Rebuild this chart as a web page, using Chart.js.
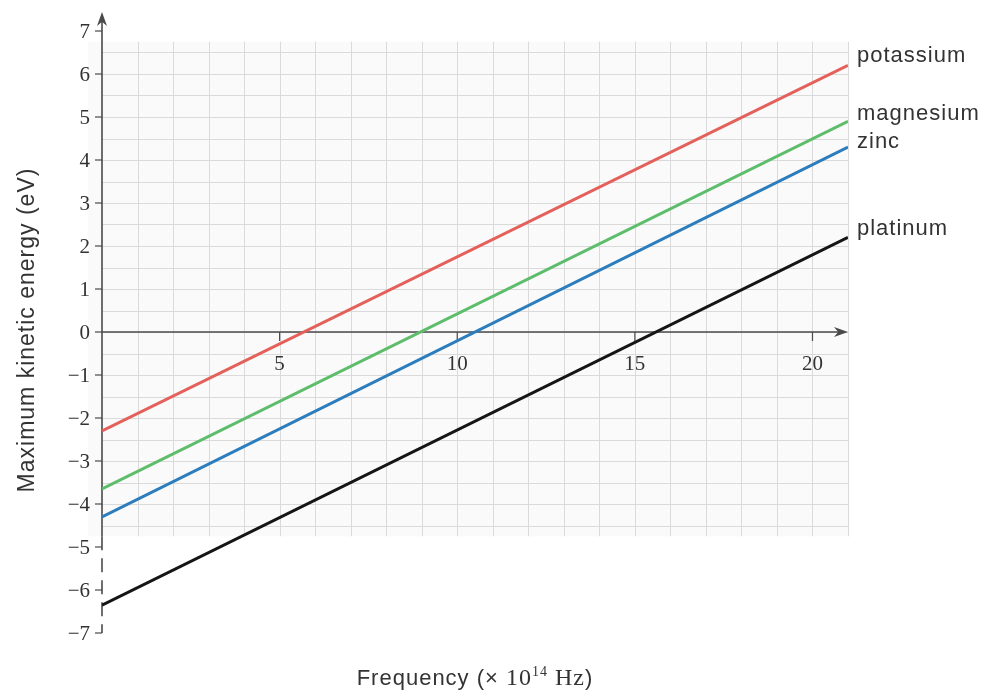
<!DOCTYPE html>
<html>
<head>
<meta charset="utf-8">
<title>Maximum kinetic energy vs frequency</title>
<script src="https://cdn.jsdelivr.net/npm/chart.js@4.4.1/dist/chart.umd.min.js"></script>
<style>
    html, body { margin: 0; padding: 0; background: #fff; }
    #chart { display: block; }
</style>
</head>
<body>
<canvas id="chart" width="987" height="690"></canvas>
<script>
'use strict';

// frequency (x 10^14 Hz) at both ends of each line
const freqEnds = [0, 21];
// max kinetic energy (eV) read at those two ends
const potassium = [-2.3, 6.2];
const magnesium = [-3.65, 4.9];
const zinc = [-4.3, 4.3];
const platinum = [-6.35, 2.2];

const metals = ['potassium', 'magnesium', 'zinc', 'platinum'];
const metalValues = [potassium, magnesium, zinc, platinum];
const lineColors = ['#e4605a', '#5dbd6b', '#2b7dbd', '#151515'];

const xTickLabels = [5, 10, 15, 20];
const yTickLabels = [7, 6, 5, 4, 3, 2, 1, 0, -1, -2, -3, -4, -5, -6, -7];

const SERIF = '"Liberation Serif", "DejaVu Serif", serif';
const SANS = '"Liberation Sans", Arial, sans-serif';
const AXIS = '#4a4a4a';

function fmt(v){
    return v < 0 ? '\u2212' + Math.abs(v) : String(v);
}

function arrow(c, x, y, dx, dy){
    // filled head pointing along (dx,dy), tip at x,y
    const len = 14, half = 5;
    const px = -dy, py = dx;
    c.beginPath();
    c.moveTo(x, y);
    c.lineTo(x - dx*len + px*half, y - dy*len + py*half);
    c.lineTo(x - dx*len*0.7, y - dy*len*0.7);
    c.lineTo(x - dx*len - px*half, y - dy*len - py*half);
    c.closePath();
    c.fill();
}

const paperPlugin = {
    id: 'paper',
    beforeDatasetsDraw(chart){
        const c = chart.ctx;
        const xs = chart.scales.x, ys = chart.scales.y;
        const left = xs.getPixelForValue(0), right = xs.getPixelForValue(21);
        const top = ys.getPixelForValue(6.75), bottom = ys.getPixelForValue(-4.75);
        c.save();
        c.fillStyle = '#fafafa';
        c.fillRect(left - 14, top, right - left + 14, bottom - top);

        // graph paper
        c.strokeStyle = '#dadada';
        c.lineWidth = 1;
        for(let i = 1; i <= 21; i++){
            const px = Math.round(xs.getPixelForValue(i)) + 0.5;
            c.beginPath(); c.moveTo(px, top); c.lineTo(px, bottom); c.stroke();
        }
        for(let v = -4.5; v <= 6.5; v += 0.5){
            const py = Math.round(ys.getPixelForValue(v)) + 0.5;
            c.beginPath(); c.moveTo(left, py); c.lineTo(right, py); c.stroke();
        }

        // axes
        c.strokeStyle = AXIS;
        c.fillStyle = AXIS;
        c.lineWidth = 1.6;
        const y0 = ys.getPixelForValue(0);
        c.beginPath(); c.moveTo(left, y0); c.lineTo(right - 4, y0); c.stroke();
        arrow(c, right, y0, 1, 0);

        c.beginPath(); c.moveTo(left, bottom); c.lineTo(left, 20); c.stroke();
        arrow(c, left, 12, 0, -1);
        c.setLineDash([14, 8]);
        c.beginPath(); c.moveTo(left, bottom); c.lineTo(left, ys.getPixelForValue(-7)); c.stroke();
        c.setLineDash([]);

        // ticks
        c.lineWidth = 1.2;
        yTickLabels.forEach(v => {
            const py = ys.getPixelForValue(v);
            c.beginPath(); c.moveTo(left - 7, py); c.lineTo(left, py); c.stroke();
        });
        xTickLabels.forEach(v => {
            const px = xs.getPixelForValue(v);
            c.beginPath(); c.moveTo(px, y0); c.lineTo(px, y0 + 9); c.stroke();
        });
        c.restore();
    },
    afterDraw(chart){
        const c = chart.ctx;
        const xs = chart.scales.x, ys = chart.scales.y;
        const left = xs.getPixelForValue(0), right = xs.getPixelForValue(21);
        c.save();
        c.fillStyle = '#333333';
        c.textBaseline = 'middle';

        c.font = '21px ' + SERIF;
        c.textAlign = 'right';
        yTickLabels.forEach(v => {
            c.fillText(fmt(v), left - 12, ys.getPixelForValue(v) + 1);
        });
        c.textAlign = 'center';
        xTickLabels.forEach(v => {
            c.fillText(fmt(v), xs.getPixelForValue(v), ys.getPixelForValue(0) + 32);
        });

        // series names at the right ends
        c.textAlign = 'left';
        c.font = '22px ' + SANS;
        c.letterSpacing = '1px';
        const nudge = [-9, -7, -5, -8];
        metals.forEach((m, i) => {
            const vals = metalValues[i];
            c.fillText(m, right + 9, ys.getPixelForValue(vals[vals.length - 1]) + nudge[i]);
        });

        // y title
        c.save();
        c.translate(28, 330);
        c.rotate(-Math.PI / 2);
        c.textAlign = 'center';
        c.font = '23px ' + SANS;
        c.fillText('Maximum kinetic energy (eV)', 0, 0);
        c.restore();

        // x title, mixed fonts like the printed figure
        const parts = [
            {t: 'Frequency (\u00d7 ', f: '22px ' + SANS, dy: 0},
            {t: '10', f: '24px ' + SERIF, dy: 0},
            {t: '14', f: '14px ' + SERIF, dy: -9},
            {t: ' Hz', f: '24px ' + SERIF, dy: 0},
            {t: ')', f: '22px ' + SANS, dy: 0},
        ];
        c.letterSpacing = '1px';
        let total = 0;
        parts.forEach(p => { c.font = p.f; p.w = c.measureText(p.t).width; total += p.w; });
        let x = 475 - total / 2;
        c.textAlign = 'left';
        c.textBaseline = 'alphabetic';
        parts.forEach(p => {
            c.font = p.f;
            c.fillText(p.t, x, 685 + p.dy);
            x += p.w;
        });
        c.restore();
    }
};

const datasets = metals.map((m, i) => ({
    label: m,
    data: freqEnds.map((f, j) => ({x: f, y: metalValues[i][j]})),
    borderColor: lineColors[i],
    borderWidth: 3,
    showLine: true,
    pointRadius: 0,
    fill: false,
}));

const ctx = document.getElementById('chart');
const graph = new Chart(ctx, {
    type: 'scatter',
    data: {datasets: datasets},
    options: {
        responsive: false,
        animation: false,
        devicePixelRatio: 1,
        layout: {padding: {left: 102, right: 139, top: 31, bottom: 57}},
        plugins: {legend: {display: false}, tooltip: {enabled: false}},
        scales: {
            x: {type: 'linear', min: 0, max: 21, display: false},
            y: {type: 'linear', min: -7, max: 7, display: false},
        },
    },
    plugins: [paperPlugin],
});
</script>
</body>
</html>
